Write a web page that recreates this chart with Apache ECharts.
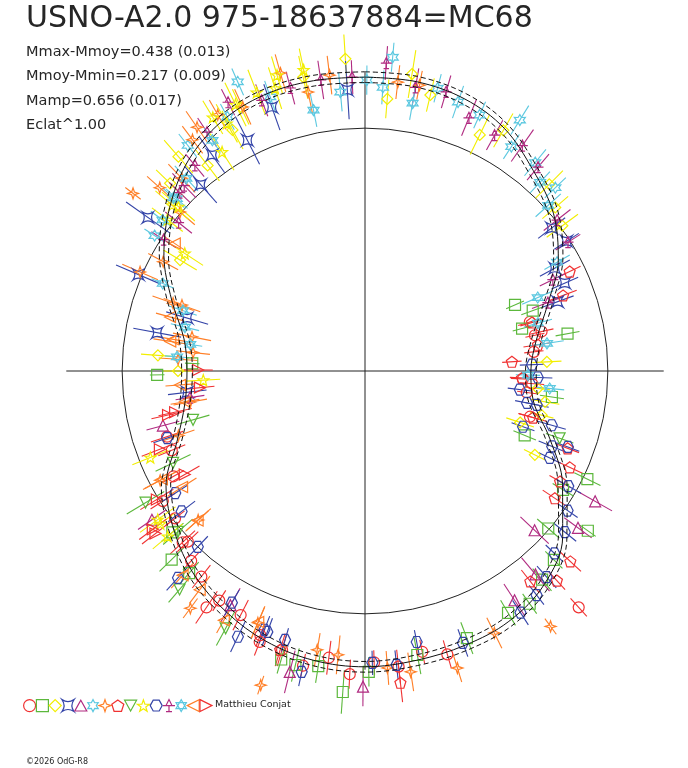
<!DOCTYPE html>
<html><head><meta charset="utf-8">
<script src="https://cdn.jsdelivr.net/npm/echarts@6/dist/echarts.min.js"></script>
<style>html,body{margin:0;padding:0;background:#fff}#c{width:688px;height:768px}</style>
</head><body><div id="c"></div>
<script>
// ---- Texts ----
const titleText = 'USNO-A2.0 975-18637884=MC68';
const statLines = ['Mmax-Mmoy=0.438 (0.013)', 'Mmoy-Mmin=0.217 (0.009)', 'Mamp=0.656 (0.017)', 'Eclat^1.00'];
const authorText = 'Matthieu Conjat';
const copyText = '\u00a92026 OdG-R8';

// ---- Mean light curve (phase, relative flux; mean = 1) ----
const meanPhase = [0.000,0.028,0.056,0.083,0.111,0.139,0.167,0.194,0.222,0.250,0.278,0.306,0.333,0.361,0.389,0.417,0.444,0.472,0.500,0.528,0.556,0.583,0.611,0.639,0.667,0.694,0.722,0.750,0.778,0.806,0.833,0.861,0.889,0.917,0.944,0.972,1.000];
const meanFlux  = [1.210,1.210,1.193,1.152,1.078,1.012,0.918,0.802,0.716,0.683,0.704,0.811,0.938,1.062,1.148,1.189,1.202,1.210,1.218,1.210,1.185,1.145,1.095,1.025,0.945,0.823,0.753,0.733,0.757,0.848,0.955,1.049,1.132,1.185,1.210,1.214,1.210];
const upperFlux = [1.232,1.232,1.215,1.174,1.100,1.034,0.940,0.824,0.738,0.705,0.726,0.833,0.960,1.084,1.170,1.211,1.224,1.232,1.240,1.232,1.207,1.167,1.117,1.047,0.967,0.845,0.775,0.755,0.779,0.870,0.977,1.071,1.154,1.207,1.232,1.236,1.232];
const lowerFlux = [1.188,1.188,1.171,1.130,1.056,0.990,0.896,0.780,0.694,0.661,0.682,0.789,0.916,1.040,1.126,1.167,1.180,1.188,1.196,1.188,1.163,1.123,1.073,1.003,0.923,0.801,0.731,0.711,0.735,0.826,0.933,1.027,1.110,1.163,1.188,1.192,1.188];
const refFlux = 1.0;      // mean-flux reference circle
const crossFlux = 1.23;   // extent of the cross-hair

// ---- Observations: [phase, relative flux, error] ----
const obs0 = [[0.204,0.708,0.05],[0.215,0.745,0.05],[0.217,0.715,0.04],[0.232,0.700,0.04],[0.258,0.651,0.05],[0.262,0.690,0.05],[0.271,0.672,0.04],[0.293,0.705,0.05],[0.383,1.312,0.05],[0.455,1.215,0.06],[0.468,1.180,0.05],[0.482,1.225,0.07],[0.495,1.200,0.05],[0.508,1.250,0.06],[0.520,1.190,0.07],[0.533,1.240,0.05],[0.546,1.198,0.07],[0.559,1.197,0.06],[0.560,1.170,0.05],[0.575,1.128,0.07],[0.590,1.120,0.05],[0.594,1.172,0.08],[0.607,1.082,0.06],[0.618,1.060,0.05],[0.628,1.013,0.06],[0.630,1.030,0.07],[0.645,0.990,0.05],[0.659,0.990,0.06],[0.670,0.900,0.05],[0.688,0.860,0.06],[0.699,0.859,0.07]];
const obs1 = [[0.184,0.675,0.04],[0.195,0.734,0.05],[0.208,0.670,0.04],[0.221,0.848,0.05],[0.272,0.777,0.05],[0.311,0.709,0.05],[0.322,1.018,0.06],[0.336,0.951,0.05],[0.349,1.129,0.04],[0.363,0.995,0.06],[0.375,1.100,0.05],[0.388,1.127,0.06],[0.402,1.174,0.05],[0.415,1.157,0.06],[0.442,1.177,0.07],[0.471,1.189,0.08],[0.498,1.239,0.06],[0.511,1.325,0.09],[0.525,1.230,0.07],[0.537,1.244,0.07],[0.545,1.237,0.06],[0.614,1.103,0.06],[0.627,1.112,0.07],[0.639,1.035,0.06],[0.747,0.856,0.03],[0.757,0.712,0.03]];
const obs2 = [[0.013,1.124,0.08],[0.025,1.238,0.10],[0.037,1.168,0.07],[0.072,1.081,0.09],[0.083,1.143,0.08],[0.124,1.080,0.08],[0.137,1.033,0.07],[0.149,1.009,0.08],[0.242,0.750,0.06],[0.266,0.715,0.05],[0.277,0.752,0.06],[0.289,0.750,0.05],[0.301,0.673,0.06],[0.323,0.780,0.05],[0.750,0.770,0.06],[0.762,0.855,0.07],[0.836,0.888,0.08],[0.872,1.114,0.08],[0.886,1.170,0.09],[0.896,1.066,0.08],[0.920,1.133,0.09],[0.930,1.202,0.08],[0.967,1.236,0.09],[0.990,1.288,0.10]];
const obs3 = [[0.146,0.968,0.07],[0.159,0.987,0.06],[0.171,0.889,0.07],[0.184,0.899,0.06],[0.195,0.843,0.07],[0.731,0.737,0.08],[0.779,0.870,0.10],[0.796,0.764,0.09],[0.814,1.014,0.10],[0.848,1.095,0.11],[0.885,1.023,0.10],[0.902,1.090,0.09],[0.925,1.066,0.11],[0.946,1.152,0.10],[0.990,1.159,0.12]];
const obs4 = [[0.332,1.089,0.08],[0.351,1.089,0.07],[0.370,0.958,0.08],[0.389,1.093,0.09],[0.408,1.127,0.08],[0.501,1.300,0.08],[0.539,1.277,0.09],[0.583,1.112,0.08],[0.653,1.070,0.07],[0.708,0.862,0.07]];
const obs5 = [[0.001,1.198,0.06],[0.010,1.170,0.07],[0.014,1.297,0.06],[0.040,1.202,0.06],[0.053,1.172,0.07],[0.067,1.155,0.06],[0.088,1.214,0.07],[0.092,1.103,0.06],[0.109,1.108,0.07],[0.128,1.088,0.06],[0.168,0.909,0.06],[0.841,1.030,0.05],[0.868,1.051,0.06],[0.894,1.181,0.06],[0.921,1.190,0.06],[0.934,1.301,0.06],[0.947,1.194,0.07],[0.986,1.153,0.08]];
const obs6 = [[0.018,1.197,0.07],[0.030,1.198,0.06],[0.400,1.300,0.04],[0.427,1.203,0.07],[0.452,1.281,0.06],[0.476,1.253,0.08],[0.488,1.226,0.07],[0.515,1.174,0.08],[0.527,1.165,0.07],[0.551,1.363,0.04],[0.564,1.127,0.07],[0.601,1.213,0.05],[0.634,0.921,0.07],[0.672,0.956,0.08],[0.697,0.813,0.07],[0.722,0.731,0.07],[0.760,0.771,0.08],[0.767,0.712,0.07],[0.781,0.726,0.08],[0.804,0.838,0.09],[0.805,0.801,0.08],[0.816,1.012,0.08],[0.829,0.945,0.07],[0.854,1.203,0.04],[0.863,1.004,0.08],[0.866,1.133,0.07],[0.879,1.095,0.08],[0.898,1.188,0.07],[0.904,1.219,0.08],[0.917,1.217,0.07],[0.931,1.198,0.08],[0.956,1.275,0.08],[0.968,1.172,0.09],[0.981,1.227,0.08]];
const obs7 = [[0.178,0.937,0.05],[0.192,0.873,0.06],[0.205,0.716,0.05],[0.226,0.720,0.06],[0.240,0.606,0.04],[0.257,0.647,0.05],[0.293,0.718,0.06],[0.308,0.893,0.05],[0.320,0.932,0.06],[0.332,0.923,0.05],[0.344,0.941,0.06],[0.369,1.153,0.06],[0.382,1.170,0.05],[0.394,1.102,0.06],[0.482,1.292,0.08],[0.547,1.200,0.07]];
const obs8 = [[0.303,0.848,0.06],[0.579,1.205,0.08],[0.612,1.180,0.07],[0.637,1.016,0.08],[0.664,1.054,0.09],[0.679,0.876,0.08],[0.706,0.736,0.07]];
const obs9 = [[0.639,1.060,0.08],[0.648,1.051,0.07],[0.651,1.050,0.09],[0.689,0.953,0.08],[0.741,0.667,0.07],[0.842,0.886,0.09],[0.854,1.025,0.08],[0.863,1.048,0.09],[0.865,1.024,0.09],[0.908,1.077,0.09],[0.914,1.218,0.08],[0.919,1.168,0.09],[0.928,1.220,0.10],[0.941,1.231,0.10],[0.951,1.222,0.09],[0.954,1.271,0.08],[0.968,1.265,0.09]];
const obs10 = [[0.244,0.688,0.05],[0.256,0.712,0.06],[0.269,0.642,0.05],[0.281,0.721,0.05],[0.281,0.680,0.05],[0.295,0.801,0.06],[0.304,0.690,0.05],[0.307,0.892,0.05],[0.311,0.831,0.06],[0.320,0.841,0.05],[0.332,0.962,0.06],[0.346,1.013,0.05],[0.358,1.057,0.06],[0.372,1.083,0.05],[0.385,1.131,0.06],[0.396,1.162,0.05],[0.409,1.183,0.06],[0.445,1.190,0.06],[0.470,1.136,0.05],[0.483,1.217,0.06],[0.496,1.202,0.05],[0.533,1.266,0.06],[0.546,1.155,0.05],[0.557,1.147,0.06],[0.559,1.143,0.06],[0.571,1.213,0.07],[0.583,1.100,0.06],[0.617,1.148,0.07],[0.621,0.999,0.06],[0.646,0.951,0.07],[0.659,0.929,0.06],[0.698,0.860,0.06]];
const obs11 = [[0.011,1.271,0.07],[0.028,1.186,0.08],[0.045,1.197,0.07],[0.062,1.127,0.08],[0.080,1.108,0.07],[0.097,1.132,0.08],[0.112,1.101,0.07],[0.144,1.006,0.07],[0.160,0.990,0.06],[0.178,0.860,0.06],[0.193,0.804,0.07],[0.726,0.729,0.06],[0.842,0.990,0.06],[0.857,0.981,0.07],[0.872,1.059,0.06],[0.877,1.066,0.07],[0.890,1.099,0.06],[0.907,1.179,0.07],[0.925,1.242,0.06],[0.942,1.193,0.07],[0.959,1.205,0.07],[0.976,1.212,0.08],[0.993,1.211,0.07]];
const obs12 = [[0.028,1.120,0.07],[0.119,1.060,0.06],[0.133,1.017,0.07],[0.186,0.773,0.07],[0.207,0.739,0.06],[0.226,0.758,0.07],[0.254,0.671,0.05],[0.265,0.764,0.06],[0.762,0.776,0.05],[0.774,0.728,0.05],[0.788,0.763,0.06],[0.801,0.790,0.06],[0.815,0.907,0.05],[0.852,1.040,0.06],[0.867,1.063,0.06],[0.881,1.082,0.07],[0.907,1.139,0.06],[0.969,1.095,0.07]];
const obs13 = [[0.564,1.123,0.07],[0.582,1.180,0.06],[0.603,1.129,0.07],[0.616,1.128,0.07],[0.634,0.924,0.06],[0.660,0.892,0.07],[0.672,0.948,0.08],[0.723,0.752,0.06],[0.738,0.764,0.06],[0.774,0.811,0.07],[0.776,0.800,0.07],[0.793,0.833,0.06],[0.844,0.943,0.06]];
const obs14 = [[0.645,1.092,0.07],[0.648,1.090,0.07],[0.662,1.007,0.08],[0.667,0.856,0.07],[0.692,0.904,0.08],[0.715,0.831,0.07],[0.716,0.800,0.07],[0.734,0.683,0.06],[0.751,0.687,0.06]];

const obsSets = [obs0,obs1,obs2,obs3,obs4,obs5,obs6,obs7,obs8,obs9,obs10,obs11,obs12,obs13,obs14];

// ---- Styles ----
const C = {red:'#f03232', green:'#5cb83c', yellow:'#f2ee00', blue:'#3444a8', magenta:'#b02a80', cyan:'#5cc8e0', orange:'#ff7f27'};
const setColors = [C.red,C.green,C.yellow,C.blue,C.magenta,C.cyan,C.orange,C.red,C.green,C.yellow,C.blue,C.magenta,C.cyan,C.orange,C.red];
const setSymbols = [
  'circle',
  'rect',
  'diamond',
  'path://M0,0 Q10,7 20,0 Q13,10 20,20 Q10,13 0,20 Q7,10 0,0 Z',
  'path://M10,0 L20,18 L0,18 Z',
  'path://M10,0 L12.75,5.24 L18.66,5 L15.5,10 L18.66,15 L12.75,14.76 L10,20 L7.25,14.76 L1.34,15 L4.5,10 L1.34,5 L7.25,5.24 Z',
  'path://M10,0 L12.5,7.5 L20,10 L12.5,12.5 L10,20 L7.5,12.5 L0,10 L7.5,7.5 Z',
  'path://M10,0 L19.51,6.91 L15.88,18.09 L4.12,18.09 L0.49,6.91 Z',
  'path://M0,2 L20,2 L10,20 Z',
  'path://M10,0 L12.35,6.76 L19.51,6.91 L13.8,11.24 L15.88,18.09 L10,14 L4.12,18.09 L6.2,11.24 L0.49,6.91 L7.65,6.76 Z',
  'path://M5,1 L15,1 L20,10 L15,19 L5,19 L0,10 Z',
  'path://M10,0 L15,10 L5,10 Z M0,10 L20,10 M10,10 L10,20 M5,20 L15,20',
  'path://M10,0 L18.66,15 L1.34,15 Z M1.34,5 L18.66,5 L10,20 Z',
  'path://M0,10 L20,0 L20,20 Z',
  'path://M0,0 L20,10 L0,20 Z'
];
const setNames = obsSets.map((d,i)=>'set'+(i+1));

const series = [];
// cross-hair and reference circle
series.push({
  type:'custom', coordinateSystem:'polar', silent:true, z:1,
  data:[[crossFlux,0]],
  renderItem:(params, api)=>{
    const r = api.value(0);
    const t = api.coord([r,0]), b = api.coord([r,0.5]), rr = api.coord([r,0.25]), l = api.coord([r,0.75]);
    const c0 = api.coord([0,0]), c1 = api.coord([refFlux,0]);
    const rad = Math.hypot(c1[0]-c0[0], c1[1]-c0[1]);
    return {type:'group', children:[
      {type:'line', shape:{x1:t[0],y1:t[1],x2:b[0],y2:b[1]}, style:{stroke:'#222',lineWidth:1}},
      {type:'line', shape:{x1:l[0],y1:l[1],x2:rr[0],y2:rr[1]}, style:{stroke:'#222',lineWidth:1}},
      {type:'circle', shape:{cx:c0[0],cy:c0[1],r:rad}, style:{fill:'none',stroke:'#222',lineWidth:1}}
    ]};
  }
});
// error bars
obsSets.forEach((d,i)=>{
  series.push({
    type:'custom', coordinateSystem:'polar', silent:true, z:2,
    data:d.map(p=>[p[1],p[0],p[2]]),
    renderItem:(params, api)=>{
      const f=api.value(0), ph=api.value(1), e=api.value(2);
      const a=api.coord([f-e,ph]), b=api.coord([f+e,ph]);
      return {type:'line', shape:{x1:a[0],y1:a[1],x2:b[0],y2:b[1]}, style:{stroke:setColors[i],lineWidth:1.1}};
    }
  });
});
// symbols
obsSets.forEach((d,i)=>{
  series.push({
    name:setNames[i], type:'scatter', coordinateSystem:'polar', z:3,
    symbol:setSymbols[i], symbolSize:11,
    itemStyle:{color:'transparent', borderColor:setColors[i], borderWidth:1.2, opacity:1},
    emphasis:{disabled:true},
    data:d.map(p=>[p[1],p[0]])
  });
});
// mean curve and envelope
const curve = (arr, type) => ({
  type:'line', coordinateSystem:'polar', smooth:0.35, symbol:'none', silent:true, z:4,
  lineStyle:{color:'#111', width:1, type:type},
  data:arr.map((f,k)=>[f, meanPhase[k]])
});
series.push(curve(meanFlux,'solid'));
series.push(curve(upperFlux,[5,3]));
series.push(curve(lowerFlux,[5,3]));

const chart = echarts.init(document.getElementById('c'), null, {renderer:'canvas'});
chart.setOption({
  animation:false,
  backgroundColor:'#fff',
  polar:{center:[365,371], radius:340},
  angleAxis:{type:'value', min:0, max:1, startAngle:90, clockwise:true, show:false},
  radiusAxis:{type:'value', min:0, max:1.4, show:false},
  legend:{
    data:setNames, left:23, top:699, orient:'horizontal', padding:0,
    itemWidth:12, itemHeight:12, itemGap:-0.4,
    formatter:()=>'', selectedMode:false,
    itemStyle:{borderWidth:1.2}
  },
  graphic:[
    {type:'text', left:26, top:4, style:{text:titleText, font:'30px "DejaVu Sans"', fill:'#262626'}},
    {type:'text', left:26, top:45, style:{text:statLines[0], font:'14.5px "DejaVu Sans"', fill:'#262626'}},
    {type:'text', left:26, top:69, style:{text:statLines[1], font:'14.5px "DejaVu Sans"', fill:'#262626'}},
    {type:'text', left:26, top:94, style:{text:statLines[2], font:'14.5px "DejaVu Sans"', fill:'#262626'}},
    {type:'text', left:26, top:118, style:{text:statLines[3], font:'14.5px "DejaVu Sans"', fill:'#262626'}},
    {type:'text', left:215, top:700, style:{text:authorText, font:'9.5px "DejaVu Sans"', fill:'#262626'}},
    {type:'text', left:26, top:758, style:{text:copyText, font:'8px "DejaVu Sans"', fill:'#262626'}}
  ],
  series:series
});
</script>
</body></html>
